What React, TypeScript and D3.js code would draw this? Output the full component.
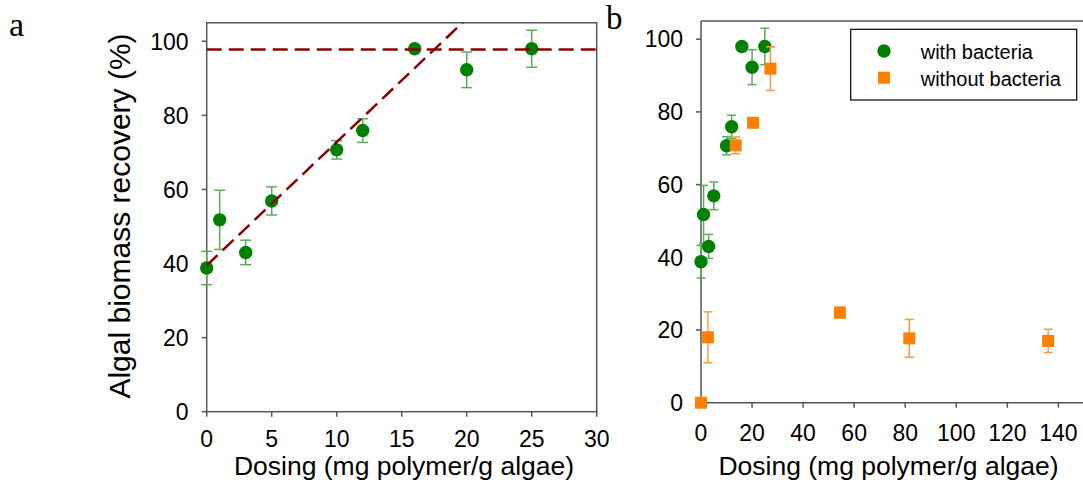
import React from "react";
import * as d3 from "d3";

const withX = [0, 1, 3, 5, 10, 12, 16, 20, 25];
const withY = [38.8, 51.8, 43, 56.9, 70.7, 75.9, 98, 92.3, 98];
const withErr = [4.5, 8, 3.3, 3.8, 2.5, 3.2, 0.6, 4.8, 5];

const withoutX = [0, 2.7, 13.6, 20.4, 27.2, 54.4, 81.6, 136];
const withoutY = [0, 18, 70.8, 77, 91.9, 24.8, 17.7, 17];
const withoutErr = [0, 7, 2.3, 0, 6, 1.5, 5.2, 3.2];

const fitIntercept = 39.5;
const fitSlope = 3.33;
const plateau = 97.8;

const ticksA = [0, 5, 10, 15, 20, 25, 30];
const ticksB = [0, 20, 40, 60, 80, 100, 120, 140];
const ticksY = [0, 20, 40, 60, 80, 100];

const GREEN = "#008000";
const GREEN_ERR = "#5aae5a";
const ORANGE = "#ff8000";
const ORANGE_ERR = "#ff9a3c";
const DARKRED = "#8b0000";
const AXIS = "#555";
const FONT = "Liberation Sans, Arial, sans-serif";
const TICK_FS = 23;

function ErrorBars({ xs, ys, es, x, y, color, cap }: any) {
  return (
    <g stroke={color} strokeWidth={1.5}>
      {xs.map((xv: number, i: number) =>
        es[i] > 0 ? (
          <g key={i}>
            <line x1={x(xv)} x2={x(xv)} y1={y(ys[i] + es[i])} y2={y(ys[i] - es[i])} />
            <line x1={x(xv) - cap} x2={x(xv) + cap} y1={y(ys[i] + es[i])} y2={y(ys[i] + es[i])} />
            <line x1={x(xv) - cap} x2={x(xv) + cap} y1={y(ys[i] - es[i])} y2={y(ys[i] - es[i])} />
          </g>
        ) : null
      )}
    </g>
  );
}

export default function App() {
  const xA = d3.scaleLinear().domain([0, 30]).range([206.7, 596.7]);
  const yA = d3.scaleLinear().domain([0, 100]).range([411.7, 41.3]);
  const xB = d3.scaleLinear().domain([0, 150]).range([701, 1083.9]);
  const yB = d3.scaleLinear().domain([0, 100]).range([402.7, 39.2]);
  const topA = yA(105);
  const topB = yB(105);

  const fitLine = d3.line<number>().x((d) => xA(d)).y((d) => yA(fitIntercept + fitSlope * d));
  const fitEnd = (105 - fitIntercept) / fitSlope;

  return (
    <svg width={1083} height={490} style={{ position: "absolute", left: 0, top: 0 }} fontFamily={FONT}>
      <defs>
        <clipPath id="clipA">
          <rect x={xA(0)} y={topA} width={xA(30) - xA(0)} height={yA(0) - topA} />
        </clipPath>
      </defs>
      <rect width={1083} height={490} fill="#fff" />

      {/* Panel labels */}
      <text x={9} y={36} fontFamily="Liberation Serif, Times New Roman, serif" fontSize={34}>a</text>
      <text x={606} y={29} fontFamily="Liberation Serif, Times New Roman, serif" fontSize={33}>b</text>

      {/* Panel a frame */}
      <rect x={xA(0)} y={topA} width={xA(30) - xA(0)} height={yA(0) - topA} fill="none" stroke={AXIS} strokeWidth={1.5} />
      {ticksY.map((t) => (
        <g key={t}>
          <line x1={xA(0) - 5} x2={xA(0)} y1={yA(t)} y2={yA(t)} stroke={AXIS} strokeWidth={1.5} />
          <text x={188.5} y={yA(t) + 8.2} textAnchor="end" fontSize={TICK_FS}>{t}</text>
        </g>
      ))}
      {ticksA.map((t) => (
        <g key={t}>
          <line x1={xA(t)} x2={xA(t)} y1={yA(0)} y2={yA(0) + 5} stroke={AXIS} strokeWidth={1.5} />
          <text x={xA(t)} y={447} textAnchor="middle" fontSize={TICK_FS}>{t}</text>
        </g>
      ))}
      <text transform={`translate(129.5,216) rotate(-90)`} textAnchor="middle" fontSize={30}>Algal biomass recovery (%)</text>
      <text x={404} y={475} textAnchor="middle" fontSize={26.5}>Dosing (mg polymer/g algae)</text>

      <ErrorBars xs={withX} ys={withY} es={withErr} x={xA} y={yA} color={GREEN_ERR} cap={5.5} />
      {withX.map((xv, i) => (
        <circle key={i} cx={xA(xv)} cy={yA(withY[i])} r={6.7} fill={GREEN} />
      ))}
      <g clipPath="url(#clipA)">
        <line x1={xA(0)} x2={xA(30)} y1={yA(plateau)} y2={yA(plateau)} stroke={DARKRED} strokeWidth={2.5} strokeDasharray="15,7" />
        <path d={fitLine([0, fitEnd + 1]) || ""} fill="none" stroke={DARKRED} strokeWidth={2.5} strokeDasharray="15,7" />
      </g>

      {/* Panel b */}
      <line x1={xB(0)} x2={1083} y1={topB} y2={topB} stroke={AXIS} strokeWidth={1.5} />
      <line x1={xB(0)} x2={xB(0)} y1={topB} y2={yB(0)} stroke={AXIS} strokeWidth={1.5} />
      <line x1={xB(0)} x2={1083} y1={yB(0)} y2={yB(0)} stroke={AXIS} strokeWidth={1.5} />
      {ticksY.map((t) => (
        <g key={t}>
          <line x1={xB(0) - 5} x2={xB(0)} y1={yB(t)} y2={yB(t)} stroke={AXIS} strokeWidth={1.5} />
          <text x={683} y={yB(t) + 8.2} textAnchor="end" fontSize={TICK_FS}>{t}</text>
        </g>
      ))}
      {ticksB.map((t) => (
        <g key={t}>
          <line x1={xB(t)} x2={xB(t)} y1={yB(0)} y2={yB(0) + 5} stroke={AXIS} strokeWidth={1.5} />
          <text x={xB(t)} y={441} textAnchor="middle" fontSize={TICK_FS}>{t}</text>
        </g>
      ))}
      <text x={888.5} y={475} textAnchor="middle" fontSize={26.5}>Dosing (mg polymer/g algae)</text>

      <ErrorBars xs={withX} ys={withY} es={withErr} x={xB} y={yB} color={GREEN_ERR} cap={4.5} />
      {withX.map((xv, i) => (
        <circle key={i} cx={xB(xv)} cy={yB(withY[i])} r={6.7} fill={GREEN} />
      ))}
      <ErrorBars xs={withoutX} ys={withoutY} es={withoutErr} x={xB} y={yB} color={ORANGE_ERR} cap={4.5} />
      {withoutX.map((xv, i) => (
        <rect key={i} x={xB(xv) - 6} y={yB(withoutY[i]) - 6} width={12} height={12} fill={ORANGE} />
      ))}

      {/* Legend */}
      <rect x={850.7} y={29.3} width={226} height={70.7} fill="#fff" stroke="#000" strokeWidth={1.2} />
      <circle cx={884} cy={51} r={6.7} fill={GREEN} />
      <rect x={878} y={71.7} width={12} height={12} fill={ORANGE} />
      <text x={920.7} y={59} fontSize={20}>with bacteria</text>
      <text x={920.7} y={86} fontSize={20}>without bacteria</text>
    </svg>
  );
}
